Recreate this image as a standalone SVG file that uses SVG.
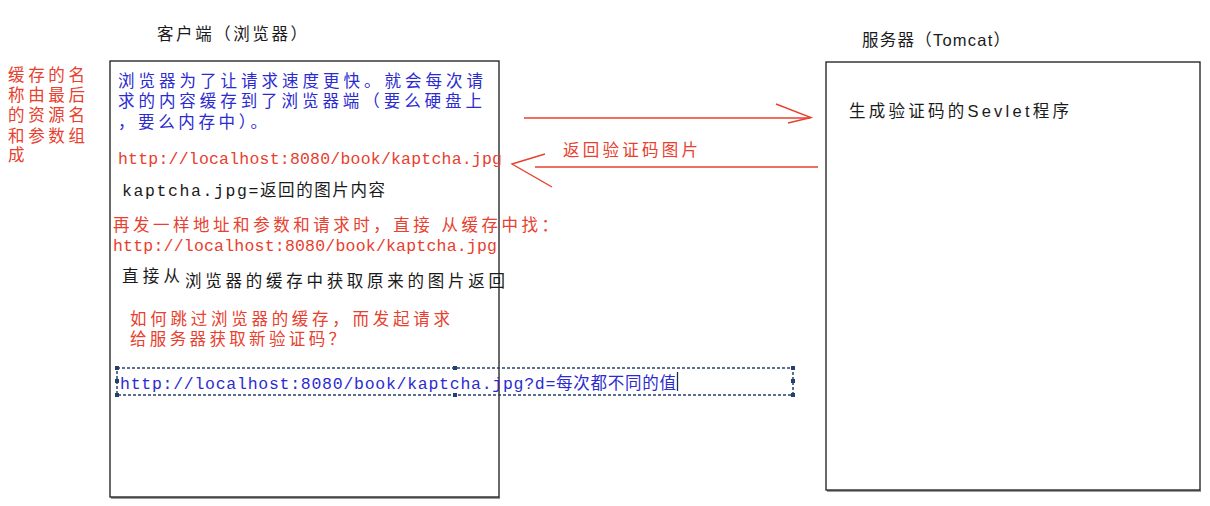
<svg xmlns="http://www.w3.org/2000/svg" width="1210" height="506" viewBox="0 0 1210 506">
<style>
.box{fill:#fff;stroke:#1a1a1a;stroke-width:1.3}
.shadow{fill:none;stroke:#9a9a9a;stroke-width:2}
.t{font-family:"Liberation Sans","Noto Sans CJK SC",sans-serif;font-size:16.5px}
.m{font-family:"Liberation Mono","Noto Sans CJK SC",monospace;font-size:16.5px}
.red{fill:#e8402e}
.blue{fill:#2b2bd0}
.blk{fill:#1a1a1a}
.arr{fill:none;stroke:#e8402e;stroke-width:1.4}
.dash{fill:none;stroke:#24406e;stroke-width:1.5;stroke-dasharray:3 2}
.h{fill:#24406e}
</style>
<rect width="1210" height="506" fill="#fff"/>

<g id="side-note">
  <text class="t red">
    <tspan x="8" y="81" textLength="77" lengthAdjust="spacing">缓存的名</tspan>
    <tspan x="8" y="101" textLength="77" lengthAdjust="spacing">称由最后</tspan>
    <tspan x="8" y="121" textLength="77" lengthAdjust="spacing">的资源名</tspan>
    <tspan x="8" y="142" textLength="77" lengthAdjust="spacing">和参数组</tspan>
    <tspan x="8" y="161">成</tspan>
  </text>
</g>

<g id="client">
  <text class="t blk" x="157" y="40" textLength="150" lengthAdjust="spacing">客户端（浏览器）</text>
  <line class="shadow" x1="111" y1="498" x2="500" y2="498"/>
  <rect class="box" x="110" y="61" width="389" height="436"/>
  <text class="t blue">
    <tspan x="118" y="87" textLength="365" lengthAdjust="spacing">浏览器为了让请求速度更快。就会每次请</tspan>
    <tspan x="118" y="107" textLength="364" lengthAdjust="spacing">求的内容缓存到了浏览器端（要么硬盘上</tspan>
    <tspan x="118" y="128" textLength="149" lengthAdjust="spacing">，要么内存中）。</tspan>
  </text>
  <text class="m red" x="118" y="164" textLength="384" lengthAdjust="spacing">http://localhost:8080/book/kaptcha.jpg</text>
  <text class="m blk" x="122" y="196" textLength="263" lengthAdjust="spacing">kaptcha.jpg=返回的图片内容</text>
  <text class="t red">
    <tspan x="113" y="231" textLength="445" lengthAdjust="spacing">再发一样地址和参数和请求时，直接 从缓存中找：</tspan>
    <tspan class="m" x="113" y="251" textLength="384" lengthAdjust="spacing">http://localhost:8080/book/kaptcha.jpg</tspan>
  </text>
  <text class="t blk" x="122" y="282" textLength="58" lengthAdjust="spacing">直接从</text>
  <text class="t blk" x="185" y="287" textLength="320" lengthAdjust="spacing">浏览器的缓存中获取原来的图片返回</text>
  <text class="t red">
    <tspan x="130" y="325" textLength="320" lengthAdjust="spacing">如何跳过浏览器的缓存，而发起请求</tspan>
    <tspan x="130" y="345" textLength="215" lengthAdjust="spacing">给服务器获取新验证码？</tspan>
  </text>
</g>

<g id="url-box">
  <rect class="dash" x="117" y="368" width="676" height="27"/>
  <rect class="h" x="115" y="366" width="4" height="4"/>
  <rect class="h" x="453" y="366" width="4" height="4"/>
  <rect class="h" x="791" y="366" width="4" height="4"/>
  <rect class="h" x="115" y="393" width="4" height="4"/>
  <rect class="h" x="453" y="393" width="4" height="4"/>
  <rect class="h" x="791" y="393" width="4" height="4"/>
  <rect class="h" x="115" y="379" width="4" height="4"/>
  <rect class="h" x="791" y="379" width="4" height="4"/>
  <text class="m blue" x="120" y="389" textLength="556" lengthAdjust="spacing">http://localhost:8080/book/kaptcha.jpg?d=每次都不同的值</text>
  <line x1="677.5" y1="372" x2="677.5" y2="391" stroke="#1a2a5a" stroke-width="1.3"/>
</g>

<g id="server">
  <text class="t blk" x="862" y="46" textLength="148" lengthAdjust="spacing">服务器（Tomcat）</text>
  <line class="shadow" x1="827" y1="491" x2="1201" y2="491"/>
  <rect class="box" x="826" y="62" width="374" height="428"/>
  <text class="t blk" x="849" y="117" textLength="220" lengthAdjust="spacing">生成验证码的Sevlet程序</text>
</g>

<g id="connectors">
  <line class="arr" x1="524" y1="118" x2="810" y2="118"/>
  <polyline class="arr" points="776,104 811,117.5 788,123"/>
  <line class="arr" x1="535" y1="167" x2="818" y2="167"/>
  <polyline class="arr" points="545,154 512,164 552,187"/>
  <text class="t red" x="563" y="156" textLength="135" lengthAdjust="spacing">返回验证码图片</text>
</g>
</svg>
